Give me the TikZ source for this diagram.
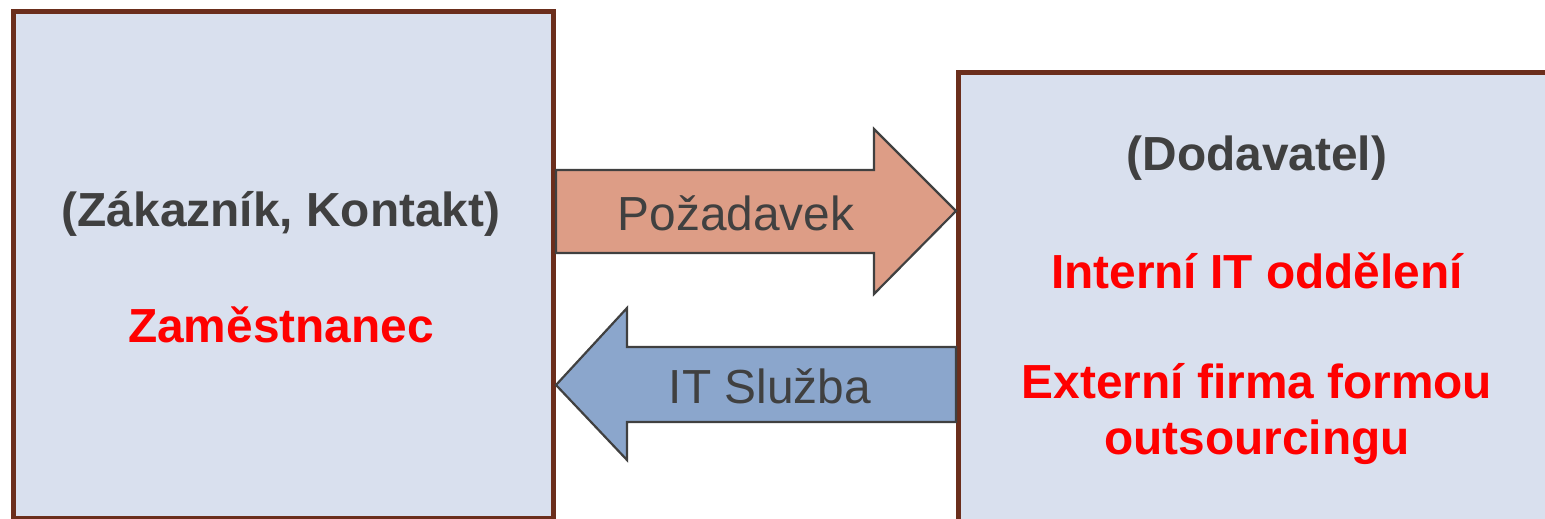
\documentclass[tikz,border=0pt]{standalone}
\usepackage{fontspec}
\setmainfont{Liberation Sans}
\definecolor{boxfill}{HTML}{D9E0EE}
\definecolor{boxline}{HTML}{6B2E1C}
\definecolor{reqfill}{HTML}{DD9D86}
\definecolor{srvfill}{HTML}{8BA6CC}
\definecolor{txtgray}{HTML}{404040}
\tikzset{
  party/.style={draw=boxline, fill=boxfill, line width=5*0.01cm, inner sep=0pt},
  flow/.style={draw=txtgray, line width=2.2*0.01cm, line join=miter},
  head/.style={font=\fontsize{13.6}{16}\selectfont\bfseries, text=txtgray},
  who/.style={font=\fontsize{13.6}{16}\selectfont\bfseries, text=red, align=center},
  lbl/.style={font=\fontsize{13.6}{16}\selectfont, text=txtgray}
}
\begin{document}
\begin{tikzpicture}[x=0.01cm, y=-0.01cm]
  \useasboundingbox (0,0) rectangle (1545,518);
  % parties
  \node[party, minimum width=540*0.01cm, minimum height=507*0.01cm, anchor=north west] (customer) at (11,9) {};
  \node[party, minimum width=592*0.01cm, minimum height=452*0.01cm, anchor=north west] (supplier) at (956,70) {};
  % request
  \draw[flow, fill=reqfill]
    (customer.east |- 0,170) -- (874,170) -- (874,129) -- (supplier.west |- 0,211)
    -- (874,294) -- (874,253) -- (customer.east |- 0,253) -- cycle;
  \node[lbl] (request) at (736,213) {Požadavek};
  % service
  \draw[flow, fill=srvfill]
    (supplier.west |- 0,347) -- (627,347) -- (627,308) -- (customer.east |- 0,385)
    -- (627,460) -- (627,422) -- (supplier.west |- 0,422) -- cycle;
  \node[lbl] (service) at (770,386) {IT Služba};
  % texts
  \node[head] (customer role) at (281,214) {(Zákazník, Kontakt)};
  \node[who] (employee) at (281,325) {Zaměstnanec};
  \node[head] (supplier role) at (1257,158) {(Dodavatel)};
  \node[who] (internal) at (1257,271) {Interní IT oddělení};
  \node[who] (external) at (1257,414) {Externí firma formou\\outsourcingu};
\end{tikzpicture}
\end{document}
